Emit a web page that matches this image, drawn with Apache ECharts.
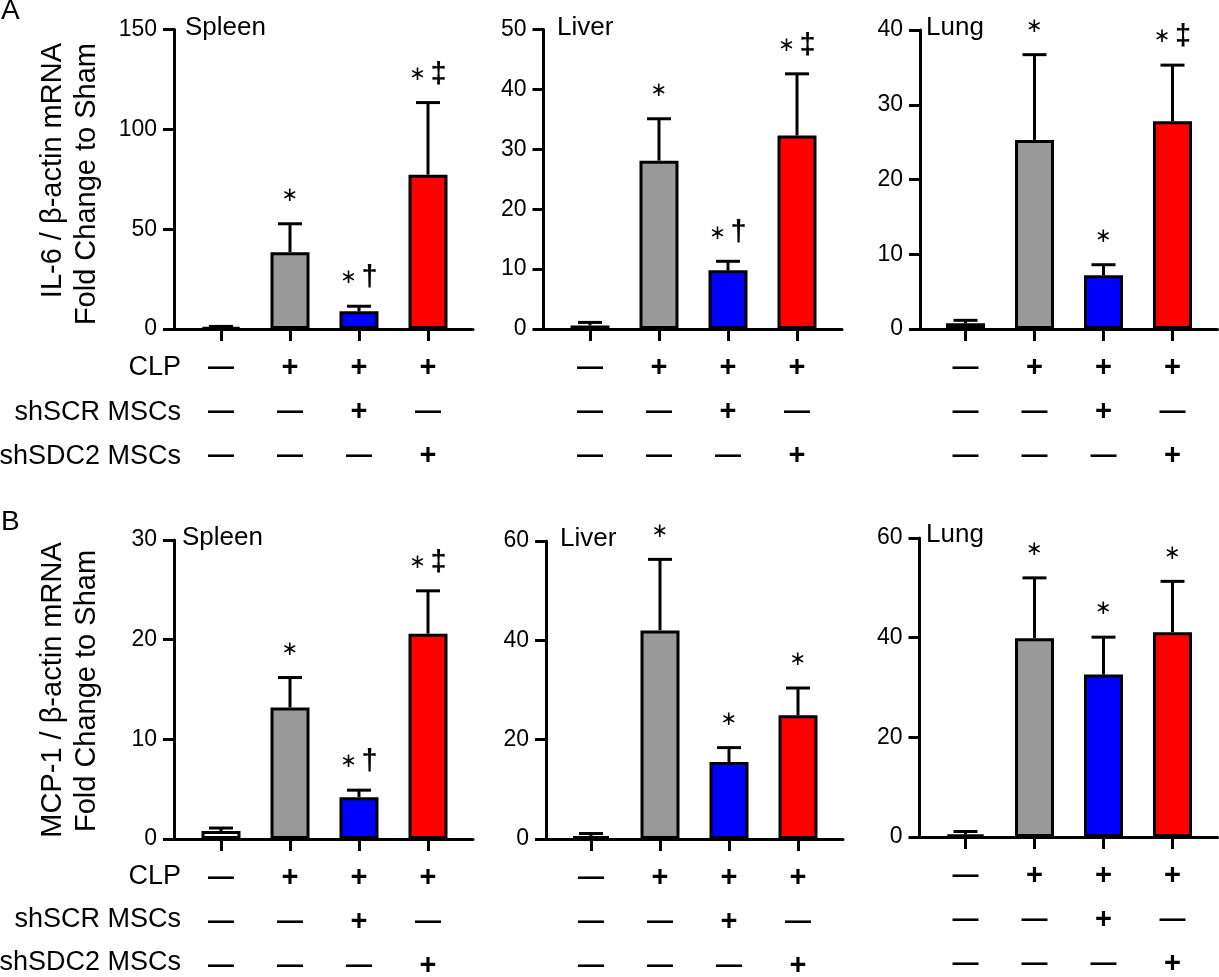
<!DOCTYPE html>
<html>
<head>
<meta charset="utf-8">
<script src="https://cdn.jsdelivr.net/npm/echarts@6/dist/echarts.min.js"></script>
<style>
html,body{margin:0;padding:0;background:#fff;}
#chart{width:1219px;height:977px;}
</style>
</head>
<body>
<div id="chart"></div>
<script>
// ---------- DATA ----------
const groups = ['Sham', 'CLP', 'CLP + shSCR MSCs', 'CLP + shSDC2 MSCs'];
const rowLabels = ['CLP', 'shSCR MSCs', 'shSDC2 MSCs'];
const rowCLP = ['—', '+', '+', '+'];
const rowSCR = ['—', '—', '+', '—'];
const rowSDC = ['—', '—', '—', '+'];

const il6SpleenMean = [0.8, 38.5, 8.9, 77.3];
const il6SpleenErr  = [0.5, 14.2, 2.5, 36.1];
const il6LiverMean  = [0.6, 28.1, 9.8, 32.3];
const il6LiverErr   = [0.5, 7.0, 1.5, 10.3];
const il6LungMean   = [0.76, 25.3, 7.2, 27.8];
const il6LungErr    = [0.4, 11.4, 1.4, 7.5];

const mcpSpleenMean = [0.8, 13.2, 4.2, 20.6];
const mcpSpleenErr  = [0.3, 3.0, 0.7, 4.3];
const mcpLiverMean  = [0.6, 42.0, 15.5, 24.9];
const mcpLiverErr   = [0.5, 14.3, 2.9, 5.5];
const mcpLungMean   = [0.5, 39.9, 32.6, 41.1];
const mcpLungErr    = [0.6, 12.1, 7.5, 10.2];

const il6SpleenAnn = ['', '*', '* †', '* ‡'];
const il6LiverAnn  = ['', '*', '* †', '* ‡'];
const il6LungAnn   = ['', '*', '*', '* ‡'];
const mcpSpleenAnn = ['', '*', '* †', '* ‡'];
const mcpLiverAnn  = ['', '*', '*', '*'];
const mcpLungAnn   = ['', '*', '*', '*'];

const il6Ticks = {spleen: [0, 150, 50], liver: [0, 50, 10], lung: [0, 40, 10]};
const mcpTicks = {spleen: [0, 30, 10], liver: [0, 60, 20], lung: [0, 60, 20]};

const tissueNames = ['Spleen', 'Liver', 'Lung'];
const yTitles = [['IL-6 / β-actin mRNA', 'Fold Change to Sham'], ['MCP-1 / β-actin mRNA', 'Fold Change to Sham']];
const panelLetters = ['A', 'B'];

// ---------- STYLE / LAYOUT ----------
const FONT = '"Liberation Sans", Arial, sans-serif';
const barColors = ['#FFFFFF', '#999999', '#0000FF', '#FF0000'];
const BAND = 69;

const panels = [
  {mean: il6SpleenMean, err: il6SpleenErr, ann: il6SpleenAnn, ticks: il6Ticks.spleen, title: tissueNames[0],
   axisX: 174, firstTick: 221, top: 29.5, zero: 329, titleX: 185, titleY: 30},
  {mean: il6LiverMean, err: il6LiverErr, ann: il6LiverAnn, ticks: il6Ticks.liver, title: tissueNames[1],
   axisX: 543.5, firstTick: 590, top: 29.5, zero: 329, titleX: 557, titleY: 30},
  {mean: il6LungMean, err: il6LungErr, ann: il6LungAnn, ticks: il6Ticks.lung, title: tissueNames[2],
   axisX: 920, firstTick: 965.5, top: 30, zero: 329, titleX: 926, titleY: 30},
  {mean: mcpSpleenMean, err: mcpSpleenErr, ann: mcpSpleenAnn, ticks: mcpTicks.spleen, title: tissueNames[0],
   axisX: 174, firstTick: 221, top: 540, zero: 839, titleX: 182, titleY: 540},
  {mean: mcpLiverMean, err: mcpLiverErr, ann: mcpLiverAnn, ticks: mcpTicks.liver, title: tissueNames[1],
   axisX: 546, firstTick: 591, top: 541, zero: 839, titleX: 560, titleY: 541},
  {mean: mcpLungMean, err: mcpLungErr, ann: mcpLungAnn, ticks: mcpTicks.lung, title: tissueNames[2],
   axisX: 919.5, firstTick: 965.5, top: 538, zero: 837, titleX: 926, titleY: 537}
];

const chart = echarts.init(document.getElementById('chart'), null, {renderer: 'canvas'});

const grid = [], xAxis = [], yAxis = [], series = [], title = [];

function annRich(s) {
  if (!s) return '';
  return s.split(' ').map(function (p) {
    if (p === '*') return '{s|∗}';
    return '{d|' + p + '}';
  }).join('{g| }');
}

const annRichStyles = {
  s: {fontFamily: '"DejaVu Sans"', fontSize: 20, color: '#000'},
  g: {fontFamily: FONT, fontSize: 16},
  d: {fontFamily: FONT, fontSize: 29, fontWeight: 'bold', color: '#000'}
};

panels.forEach(function (p, i) {
  const h = p.zero - p.top;
  const gA = 2 * i, gC = 2 * i + 1;
  grid.push({left: p.axisX, top: p.top, width: p.firstTick + BAND * 3 + 45 - p.axisX, height: h,
    containLabel: false, outerBoundsMode: 'none'});
  grid.push({left: p.firstTick - BAND / 2, top: p.top, width: BAND * 4, height: h,
    containLabel: false, outerBoundsMode: 'none'});

  xAxis.push({
    gridIndex: gA, type: 'value', min: 0, max: 1,
    axisLine: {show: true, lineStyle: {color: '#000', width: 3}},
    axisTick: {show: false}, axisLabel: {show: false}, splitLine: {show: false}
  });
  xAxis.push({
    gridIndex: gC, type: 'category', data: groups,
    axisLine: {show: false},
    axisTick: {show: true, alignWithLabel: true, length: 12, lineStyle: {color: '#000', width: 3}},
    axisLabel: {
      show: true, interval: 0, margin: 17,
      formatter: function (v, idx) {
        const cell = function (c) { return c === '+' ? '{p|+}' : '{m|—}'; };
        return cell(rowCLP[idx]) + '\n' + cell(rowSCR[idx]) + '\n' + cell(rowSDC[idx]);
      },
      rich: {
        p: {fontFamily: FONT, fontSize: 29, fontWeight: 'bold', color: '#000', lineHeight: 44},
        m: {fontFamily: FONT, fontSize: 26, fontWeight: 'bold', color: '#000', lineHeight: 44}
      }
    },
    splitLine: {show: false}
  });

  yAxis.push({
    gridIndex: gA, type: 'value', min: p.ticks[0], max: p.ticks[1], interval: p.ticks[2],
    axisLine: {show: true, lineStyle: {color: '#000', width: 3}},
    axisTick: {show: true, length: 11, lineStyle: {color: '#000', width: 3}},
    axisLabel: {show: true, margin: 17, fontSize: 23, fontFamily: FONT, color: '#000'},
    splitLine: {show: false}
  });
  yAxis.push({
    gridIndex: gC, type: 'value', min: p.ticks[0], max: p.ticks[1], interval: p.ticks[2],
    show: false, splitLine: {show: false}
  });

  title.push({
    text: p.title, left: p.titleX, top: p.titleY - 15, padding: 0,
    textStyle: {fontFamily: FONT, fontSize: 26, fontWeight: 'normal', color: '#000'}
  });

  series.push({
    type: 'bar', xAxisIndex: gC, yAxisIndex: gC,
    barWidth: 39, z: 3,
    data: p.mean.map(function (v, k) {
      return {value: v, itemStyle: {color: barColors[k], borderColor: '#000', borderWidth: 3}};
    }),
    animation: false
  });

  series.push({
    type: 'custom', xAxisIndex: gC, yAxisIndex: gC, z: 4,
    data: p.mean.map(function (v, k) { return [k, v, p.err[k]]; }),
    encode: {x: 0, y: 1},
    renderItem: function (params, api) {
      const x = api.value(0), m = api.value(1), e = api.value(2);
      const p0 = api.coord([x, m]);
      const p1 = api.coord([x, m + e]);
      const children = [
        {type: 'line', shape: {x1: p0[0], y1: p0[1], x2: p1[0], y2: p1[1]}, style: {stroke: '#000', lineWidth: 3}},
        {type: 'line', shape: {x1: p1[0] - 12, y1: p1[1], x2: p1[0] + 12, y2: p1[1]}, style: {stroke: '#000', lineWidth: 3}}
      ];
      const a = p.ann[params.dataIndex];
      if (a) {
        children.push({
          type: 'text',
          style: {
            text: annRich(a), rich: annRichStyles,
            x: p1[0], y: p1[1] - 28, align: 'center', verticalAlign: 'middle', fill: '#000'
          }
        });
      }
      return {type: 'group', children: children};
    },
    animation: false
  });
});

const graphic = [];
graphic.push({type: 'text', x: 1, y: 11, style: {text: panelLetters[0], font: '28px ' + FONT, fill: '#000', textVerticalAlign: 'middle'}});
graphic.push({type: 'text', x: 1, y: 522, style: {text: panelLetters[1], font: '28px ' + FONT, fill: '#000', textVerticalAlign: 'middle'}});
graphic.push({type: 'text', x: 53, y: 43, rotation: Math.PI / 2,
  style: {text: yTitles[0][0], font: '29px ' + FONT, fill: '#000', textAlign: 'right', textVerticalAlign: 'middle'}});
graphic.push({type: 'text', x: 87, y: 43, rotation: Math.PI / 2,
  style: {text: yTitles[0][1], font: '29px ' + FONT, fill: '#000', textAlign: 'right', textVerticalAlign: 'middle'}});
graphic.push({type: 'text', x: 53, y: 690, rotation: Math.PI / 2,
  style: {text: yTitles[1][0], font: '29px ' + FONT, fill: '#000', textAlign: 'center', textVerticalAlign: 'middle'}});
graphic.push({type: 'text', x: 87, y: 691, rotation: Math.PI / 2,
  style: {text: yTitles[1][1], font: '29px ' + FONT, fill: '#000', textAlign: 'center', textVerticalAlign: 'middle'}});
const rowYA = [368, 413, 457], rowYB = [877, 920, 963];
rowLabels.forEach(function (t, k) {
  graphic.push({type: 'text', x: 181, y: rowYA[k], style: {text: t, font: '27px ' + FONT, fill: '#000', textAlign: 'right', textVerticalAlign: 'middle'}});
  graphic.push({type: 'text', x: 181, y: rowYB[k], style: {text: t, font: '27px ' + FONT, fill: '#000', textAlign: 'right', textVerticalAlign: 'middle'}});
});

chart.setOption({
  animation: false,
  backgroundColor: '#fff',
  title: title,
  grid: grid,
  xAxis: xAxis,
  yAxis: yAxis,
  series: series,
  graphic: graphic
});
</script>
</body>
</html>
